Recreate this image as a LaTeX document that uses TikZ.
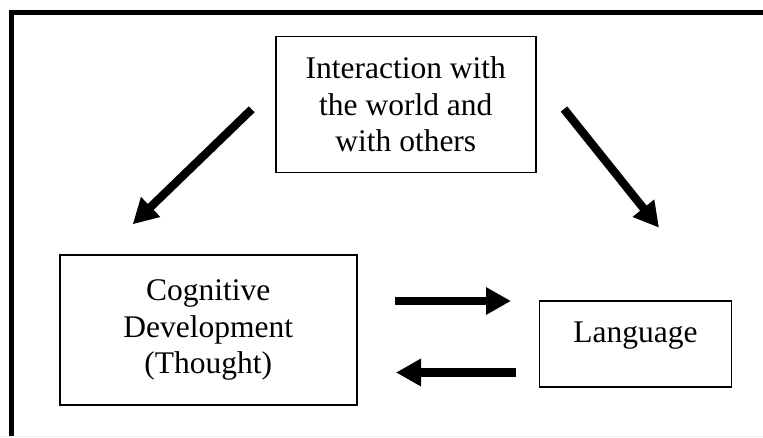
\documentclass[tikz,border=0pt]{standalone}
\usepackage{fontspec}
\setmainfont{Liberation Serif}
\usetikzlibrary{arrows.meta}

\tikzset{
  box/.style={draw, line width=1.8pt, inner sep=0pt, align=center,
    font=\fontsize{31.5}{36.7}\selectfont},
  bigarrow/.style={line width=8.3pt, -{Triangle[length=25pt,width=26pt]}},
}

\begin{document}
\begin{tikzpicture}[x=1pt, y=-1pt]
  \useasboundingbox (0,0) rectangle (763,437);

  % frame
  \draw[line width=5pt] (11.3,437) -- (11.3,12.5) -- (763,12.5);
  \draw[gray!15] (0,436.5) -- (763,436.5);

  \node[box, minimum width=260pt, minimum height=136pt] (inter) at (405.8,104.5)
    {Interaction with\\the world and\\with others};
  \node[box, minimum width=297pt, minimum height=150pt] (cog) at (208.3,330)
    {Cognitive\\Development\\(Thought)};
  \node[box, minimum width=192pt, text height=41pt, text depth=45pt] (lang) at (635.5,344)
    {Language};

  \coordinate (ltail) at (251.7,109.3);
  \coordinate (ltip)  at (132.7,224.3);
  \coordinate (rtail) at (564,109);
  \coordinate (rtip)  at (659,227.7);
  \coordinate (ftail) at (395,301);
  \coordinate (ftip)  at (511,301);
  \coordinate (btail) at (516,372.5);
  \coordinate (btip)  at (396,372.5);

  \draw[bigarrow] (ltail) -- (ltip);
  \draw[bigarrow] (rtail) -- (rtip);
  \draw[bigarrow] (ftail) -- (ftip);
  \draw[bigarrow] (btail) -- (btip);
\end{tikzpicture}
\end{document}
